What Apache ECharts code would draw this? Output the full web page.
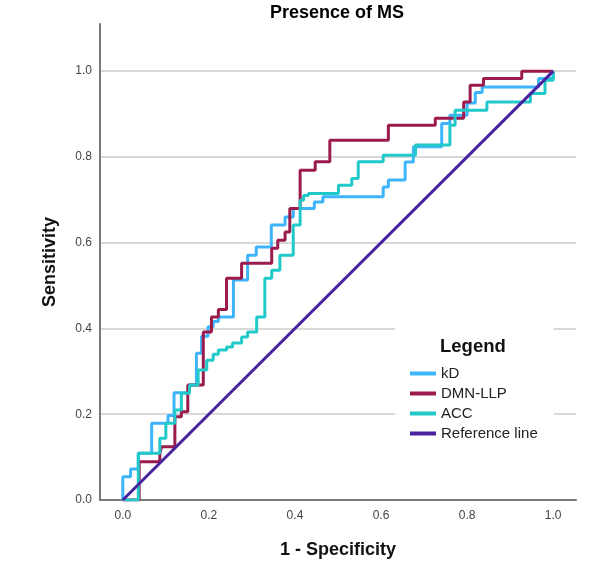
<!DOCTYPE html>
<html>
<head>
<meta charset="utf-8">
<script src="https://cdn.jsdelivr.net/npm/echarts@6/dist/echarts.min.js"></script>
<style>
html,body{margin:0;padding:0;background:#fff;}
#chart{width:608px;height:569px;}
</style>
</head>
<body>
<div id="chart"></div>
<script>
// Data (1 - specificity, sensitivity)
const seriesNames = ['kD', 'DMN-LLP', 'ACC', 'Reference line'];
const tickValues = [0, 0.2, 0.4, 0.6, 0.8, 1.0];

const kdFpr = [0, 0.018, 0.036, 0.067, 0.105, 0.119, 0.154, 0.171, 0.183, 0.198, 0.21, 0.222, 0.257, 0.29, 0.31, 0.345, 0.377, 0.396, 0.445, 0.465, 0.605, 0.617, 0.656, 0.675, 0.741, 0.76, 0.8, 0.819, 0.835, 0.966, 1.0];
const kdTpr = [0.054, 0.072, 0.109, 0.179, 0.197, 0.25, 0.268, 0.342, 0.382, 0.404, 0.416, 0.427, 0.513, 0.571, 0.59, 0.641, 0.66, 0.68, 0.695, 0.707, 0.73, 0.746, 0.788, 0.824, 0.878, 0.897, 0.926, 0.95, 0.963, 0.983, 1.0];

const dmnFpr = [0.038, 0.086, 0.09, 0.121, 0.136, 0.151, 0.187, 0.206, 0.222, 0.241, 0.276, 0.346, 0.36, 0.377, 0.388, 0.412, 0.447, 0.481, 0.617, 0.726, 0.792, 0.807, 0.838, 0.927, 1.0];
const dmnTpr = [0.089, 0.109, 0.124, 0.194, 0.206, 0.268, 0.392, 0.427, 0.444, 0.517, 0.552, 0.587, 0.606, 0.625, 0.68, 0.769, 0.789, 0.839, 0.874, 0.89, 0.928, 0.967, 0.983, 1.0, 1.0];

const accFpr = [0.036, 0.086, 0.1, 0.121, 0.136, 0.155, 0.175, 0.195, 0.21, 0.222, 0.241, 0.255, 0.276, 0.29, 0.311, 0.33, 0.346, 0.365, 0.396, 0.412, 0.42, 0.431, 0.501, 0.532, 0.547, 0.605, 0.68, 0.76, 0.772, 0.846, 0.947, 0.981, 1.0];
const accTpr = [0.109, 0.144, 0.179, 0.21, 0.249, 0.268, 0.303, 0.326, 0.34, 0.35, 0.357, 0.366, 0.38, 0.392, 0.427, 0.517, 0.536, 0.571, 0.641, 0.699, 0.71, 0.715, 0.734, 0.75, 0.789, 0.804, 0.828, 0.874, 0.909, 0.928, 0.948, 0.979, 1.0];

const refX = [0, 1];
const refY = [0, 1];

function toSteps(fpr, tpr) {
  const pts = [[0, 0]];
  let y = 0;
  for (let i = 0; i < fpr.length; i++) {
    pts.push([fpr[i], y]);
    pts.push([fpr[i], tpr[i]]);
    y = tpr[i];
  }
  return pts;
}

const colors = ['#3db4fb', '#9b1b4d', '#22c9c9', '#4a22a0'];
const FONT = '"Liberation Sans", Arial, Helvetica, sans-serif';

const chart = echarts.init(document.getElementById('chart'));

function lineSeries(name, data, color, z) {
  return {
    name: name, type: 'line', data: data, showSymbol: false, symbol: 'none',
    lineStyle: { color: color, width: 3 }, itemStyle: { color: color },
    z: z, animation: false
  };
}

chart.setOption({
  animation: false,
  title: {
    text: 'Presence of MS', left: 270, top: 4, padding: 0,
    textStyle: { fontFamily: FONT, fontSize: 18, fontWeight: 'bold', color: '#000' }
  },
  grid: { left: 100, right: 32, top: 24, bottom: 69, containLabel: false },
  xAxis: {
    type: 'value', min: -0.053, max: 1.053,
    name: '1 - Specificity', nameLocation: 'middle', nameGap: 41,
    nameTextStyle: { fontFamily: FONT, fontSize: 18, fontWeight: 'bold', color: '#111' },
    axisLine: { show: true, onZero: false, lineStyle: { color: '#7a7a7a', width: 2 } },
    axisTick: { show: false },
    splitLine: { show: false },
    axisLabel: {
      customValues: tickValues, margin: 10,
      fontFamily: FONT, fontSize: 12, color: '#444',
      formatter: v => v.toFixed(1)
    }
  },
  yAxis: {
    type: 'value', min: 0, max: 1.11, interval: 0.2,
    name: 'Sensitivity', nameLocation: 'middle', nameGap: 41,
    nameTextStyle: { fontFamily: FONT, fontSize: 18, fontWeight: 'bold', color: '#111' },
    axisLine: { show: true, onZero: false, lineStyle: { color: '#7a7a7a', width: 2 } },
    axisTick: { show: false },
    splitLine: { show: true, showMinLine: false, showMaxLine: false, lineStyle: { color: '#cccccc', width: 1.5 } },
    axisLabel: {
      margin: 8, showMaxLabel: false,
      fontFamily: FONT, fontSize: 12, color: '#444',
      formatter: v => (Math.abs(v - 1.11) < 1e-6 ? '' : v.toFixed(1))
    }
  },
  legend: {
    data: seriesNames, orient: 'vertical', left: 395, top: 322,
    padding: [44, 16, 10, 15], backgroundColor: '#ffffff',
    icon: 'rect', itemWidth: 26, itemHeight: 4, itemGap: 5,
    textStyle: { fontFamily: FONT, fontSize: 15, lineHeight: 15, color: '#222', padding: [0, 0, 0, 0] },
    selectedMode: false
  },
  graphic: [{
    type: 'text', z: 100, left: 440, top: 337,
    style: { text: 'Legend', fontFamily: FONT, fontSize: 18.5, fontWeight: 'bold', fill: '#111' }
  }],
  series: [
    lineSeries('kD', toSteps(kdFpr, kdTpr), colors[0], 2),
    lineSeries('DMN-LLP', toSteps(dmnFpr, dmnTpr), colors[1], 3),
    lineSeries('ACC', toSteps(accFpr, accTpr), colors[2], 4),
    lineSeries('Reference line', refX.map((x, i) => [x, refY[i]]), colors[3], 5)
  ]
});
</script>
</body>
</html>
